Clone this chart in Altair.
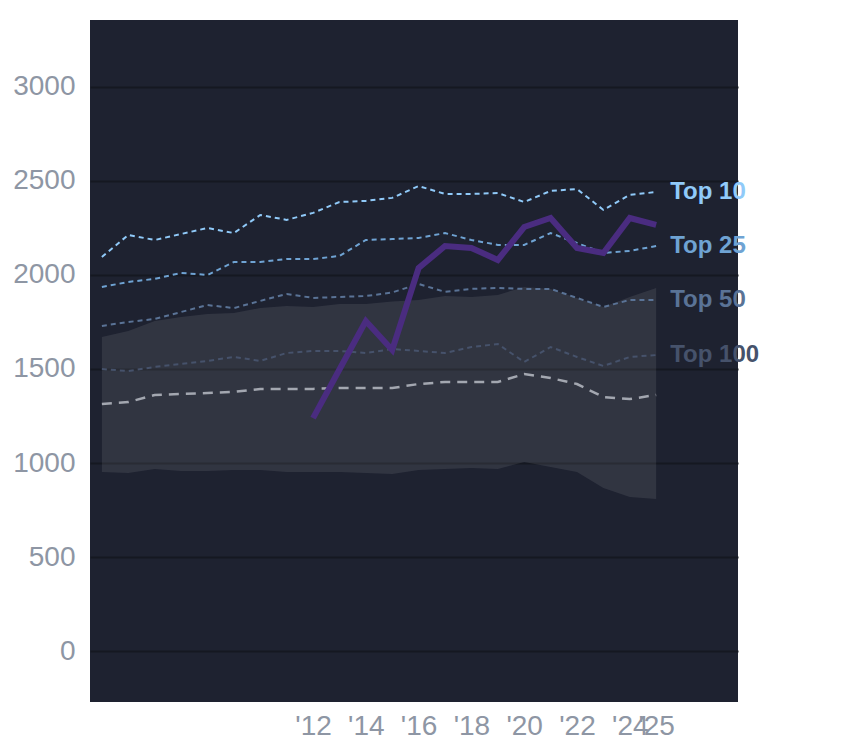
import altair as alt
import pandas as pd

years = list(range(2004, 2026))
top10 = [2096, 2213, 2186, 2218, 2250, 2223, 2319, 2293, 2330, 2388, 2394, 2410, 2473, 2431, 2431, 2436, 2388, 2447, 2457, 2346, 2426, 2441]
top25 = [1936, 1963, 1979, 2011, 2000, 2069, 2069, 2085, 2085, 2101, 2186, 2191, 2197, 2223, 2186, 2160, 2160, 2223, 2170, 2117, 2128, 2154]
top50 = [1729, 1750, 1766, 1803, 1840, 1824, 1862, 1899, 1878, 1883, 1888, 1907, 1952, 1910, 1926, 1931, 1926, 1926, 1878, 1830, 1867, 1867]
top100 = [1500, 1489, 1511, 1527, 1543, 1564, 1543, 1585, 1596, 1596, 1585, 1606, 1596, 1585, 1617, 1633, 1537, 1617, 1564, 1516, 1564, 1574]
median = [1314, 1324, 1362, 1367, 1372, 1378, 1394, 1394, 1394, 1399, 1399, 1399, 1420, 1431, 1431, 1431, 1473, 1452, 1420, 1351, 1340, 1362]
band_hi = [1670, 1702, 1755, 1777, 1793, 1798, 1824, 1835, 1830, 1846, 1846, 1859, 1867, 1888, 1883, 1894, 1936, 1926, 1878, 1830, 1883, 1931]
band_lo = [952, 947, 968, 957, 957, 963, 963, 952, 952, 952, 947, 941, 963, 968, 973, 968, 1005, 979, 952, 867, 819, 809]
player_years = list(range(2012, 2026))
player = [1239, 1497, 1755, 1601, 2037, 2154, 2144, 2080, 2255, 2303, 2144, 2117, 2303, 2266]

series_names = ["Top 10", "Top 25", "Top 50", "Top 100"]
series_vals = [top10, top25, top50, top100]
series_colors = ["#90caf9", "#6fa3d3", "#5a7396", "#46526b"]
x_ticks = [2012, 2014, 2016, 2018, 2020, 2022, 2024, 2025]
y_ticks = [0, 500, 1000, 1500, 2000, 2500, 3000]

base_df = pd.DataFrame({"year": years, "median": median, "lo": band_lo, "hi": band_hi})
long_df = pd.DataFrame([
    {"year": y, "value": v, "series": n}
    for n, vals in zip(series_names, series_vals)
    for y, v in zip(years, vals)
])
end_df = pd.DataFrame([
    {"year": years[-1], "value": vals[-1], "series": n}
    for n, vals in zip(series_names, series_vals)
])
player_df = pd.DataFrame({"year": player_years, "value": player})

xscale = alt.Scale(domain=[2003.55, 2028.1], nice=False, zero=False)
yscale = alt.Scale(domain=[-271, 3356], nice=False, zero=False)
xaxis = alt.Axis(values=x_ticks, labelExpr="\"'\" + slice(toString(datum.value), 2)",
                 labelOverlap=False, grid=False, title=None, labelPadding=10, labelFlush=False)
yaxis = alt.Axis(values=y_ticks, title=None, grid=True, labelPadding=15, format="d")
color_scale = alt.Scale(domain=series_names, range=series_colors)

band = alt.Chart(base_df).mark_area(color="#ffffff", opacity=0.085).encode(
    x=alt.X("year:Q", scale=xscale, axis=xaxis),
    y=alt.Y("lo:Q", scale=yscale, axis=yaxis),
    y2="hi:Q",
)
med = alt.Chart(base_df).mark_line(color="#a3a7b0", strokeWidth=2.5, strokeDash=[10, 7]).encode(
    x="year:Q", y="median:Q"
)
tops = alt.Chart(long_df).mark_line(strokeWidth=2, strokeDash=[5, 4]).encode(
    x="year:Q", y="value:Q",
    color=alt.Color("series:N", scale=color_scale, legend=None),
    detail="series:N",
)
play = alt.Chart(player_df).mark_line(color="#4a2c80", strokeWidth=6, strokeJoin="miter").encode(
    x="year:Q", y="value:Q"
)
labels = alt.Chart(end_df).mark_text(align="left", baseline="middle", dx=14, fontSize=24,
                                     fontWeight="bold", font="Liberation Sans").encode(
    x="year:Q", y="value:Q", text="series:N",
    color=alt.Color("series:N", scale=color_scale, legend=None),
)

chart = alt.layer(band, med, tops, play, labels).properties(
    width=648, height=682,
    autosize=alt.AutoSizeParams(type="none"),
    padding={"left": 82, "top": 12, "right": 98, "bottom": 38},
    background="#ffffff",
).configure_view(fill="#1e2230", stroke=None).configure_axis(
    labelFont="Liberation Sans", labelFontSize=28, labelColor="#8e96a4",
    domain=False, ticks=False, gridColor="#151821", gridWidth=2,
)

chart.save("out.html", embed_options={"renderer": "svg", "actions": False})
